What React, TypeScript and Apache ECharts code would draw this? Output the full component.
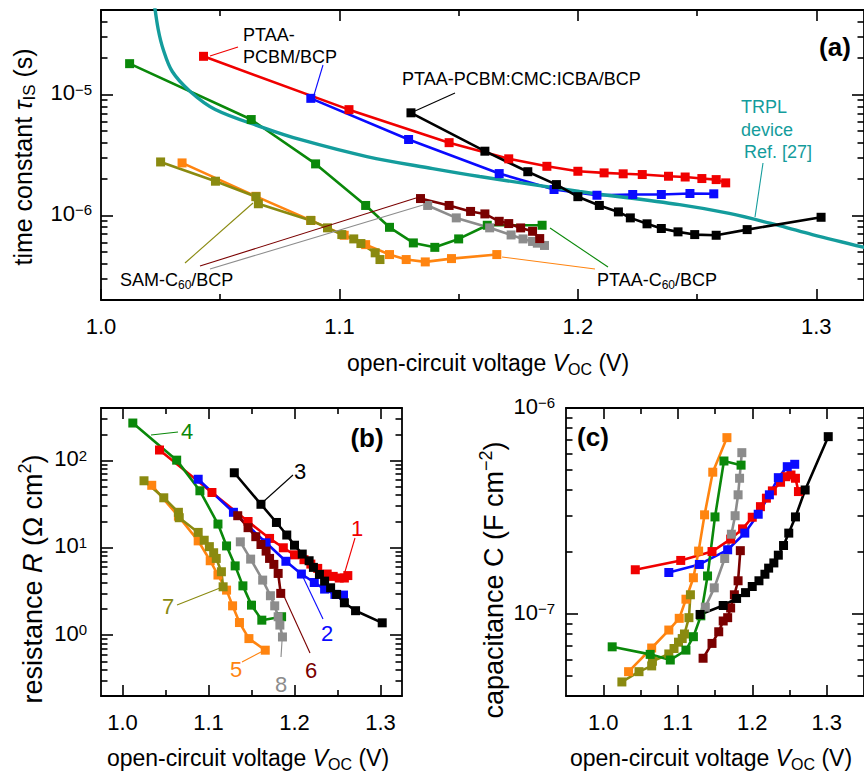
import React, { useEffect, useRef } from 'react';
import * as echarts from 'echarts';

// ---------------- data ----------------
// open-circuit voltages of each device series (V)
const vocRed = [1.043, 1.104, 1.146, 1.171, 1.187, 1.2, 1.211, 1.219, 1.227, 1.238, 1.245, 1.252, 1.258, 1.262];
const vocBlue = [1.088, 1.129, 1.167, 1.19, 1.208, 1.223, 1.235, 1.247, 1.257];
const vocBlack = [1.13, 1.161, 1.179, 1.191, 1.2, 1.209, 1.217, 1.222, 1.229, 1.235, 1.242, 1.249, 1.258, 1.271, 1.302];
const vocGreen = [1.012, 1.063, 1.09, 1.111, 1.121, 1.131, 1.14, 1.15, 1.162, 1.185];
const vocOrange = [1.034, 1.065, 1.088, 1.102, 1.111, 1.121, 1.128, 1.136, 1.147, 1.166];
const vocOlive = [1.025, 1.048, 1.065, 1.066, 1.088, 1.095, 1.101, 1.106, 1.109, 1.115, 1.117];
const vocBrown = [1.134, 1.146, 1.155, 1.161, 1.167, 1.171, 1.176, 1.181, 1.184];
const vocGray = [1.137, 1.149, 1.163, 1.172, 1.177, 1.181, 1.183, 1.186];

// (a) time constant tau_IS (s)
const tauRed = [2.07e-5, 7.5e-6, 4.0e-6, 2.94e-6, 2.55e-6, 2.32e-6, 2.25e-6, 2.21e-6, 2.18e-6, 2.11e-6, 2.08e-6, 2.02e-6, 1.98e-6, 1.86e-6];
const tauBlue = [9.3e-6, 4.25e-6, 2.22e-6, 1.64e-6, 1.47e-6, 1.49e-6, 1.49e-6, 1.52e-6, 1.51e-6];
const tauBlack = [7.06e-6, 3.4e-6, 2.3e-6, 1.8e-6, 1.43e-6, 1.21e-6, 1.07e-6, 9.55e-7, 8.53e-7, 7.8e-7, 7.32e-7, 6.95e-7, 6.86e-7, 7.64e-7, 9.66e-7];
const tauGreen = [1.8e-5, 6.21e-6, 2.67e-6, 1.21e-6, 7.98e-7, 5.93e-7, 5.45e-7, 6.4e-7, 8.3e-7, 8.3e-7];
const tauOrange = [2.72e-6, 1.44e-6, 9.1e-7, 6.86e-7, 5.74e-7, 4.75e-7, 4.32e-7, 4.13e-7, 4.4e-7, 4.75e-7];
const tauOlive = [2.77e-6, 1.92e-6, 1.43e-6, 1.25e-6, 9.1e-7, 7.9e-7, 6.95e-7, 6.4e-7, 5.86e-7, 4.91e-7, 4.32e-7];
const tauBrown = [1.38e-6, 1.21e-6, 1.08e-6, 1.03e-6, 8.95e-7, 8.57e-7, 7.89e-7, 7.4e-7, 6.44e-7];
const tauGray = [1.21e-6, 9.55e-7, 7.9e-7, 6.9e-7, 6.4e-7, 6.1e-7, 5.9e-7, 5.65e-7];
// TRPL reference curve
const vocTRPL = [1.0223, 1.024, 1.0261, 1.0299, 1.0374, 1.0479, 1.068, 1.0834, 1.1115, 1.1391, 1.1588, 1.2007, 1.2426, 1.2635, 1.2845, 1.2983, 1.3205];
const tauTRPL = [5.77e-5, 3.45e-5, 2.36e-5, 1.55e-5, 1.06e-5, 7.52e-6, 5.33e-6, 4.25e-6, 3.07e-6, 2.44e-6, 2.1e-6, 1.58e-6, 1.23e-6, 1.04e-6, 8.25e-7, 6.95e-7, 5.42e-7];

// (b) resistance R (Ohm cm^2)
const resRed = [132, 43, 20, 12.8, 10, 8.3, 7.3, 6.5, 5.8, 5.0, 4.7, 4.5, 4.5, 4.8];
const resBlue = [61, 25.5, 11.4, 7.0, 5.0, 4.0, 3.36, 2.92, 2.87];
const resBlack = [72.4, 31.5, 19.5, 14.0, 10.7, 8.47, 7.1, 5.96, 4.95, 4.15, 3.48, 2.92, 2.34, 1.9, 1.38];
const resGreen = [269, 101, 45, 18.7, 10.5, 6.2, 3.66, 2.2, 1.48, 1.62];
const resOrange = [52, 23, 12, 7.1, 4.87, 3.27, 2.16, 1.39, 0.91, 0.67];
const resOlive = [58.6, 37.4, 25.5, 22.1, 15.0, 12.2, 10.3, 8.77, 7.55, 5.31, 3.57];
const resBrown = [23.3, 17.0, 13.4, 10.9, 9.16, 7.55, 6.45, 5.08, 3.0];
const resGray = [11.7, 7.41, 4.26, 2.82, 2.16, 1.62, 1.3, 0.95];

// (c) capacitance C (F cm^-2)
const capRed = [1.64e-7, 1.82e-7, 2.01e-7, 2.31e-7, 2.59e-7, 2.95e-7, 3.32e-7, 3.65e-7, 3.96e-7, 4.36e-7, 4.64e-7, 4.73e-7, 4.56e-7, 3.93e-7];
const capBlue = [1.59e-7, 1.74e-7, 2.05e-7, 2.47e-7, 3.05e-7, 3.79e-7, 4.59e-7, 5.19e-7, 5.33e-7];
const capBlack = [9.95e-8, 1.1e-7, 1.19e-7, 1.27e-7, 1.36e-7, 1.45e-7, 1.56e-7, 1.67e-7, 1.77e-7, 1.93e-7, 2.15e-7, 2.47e-7, 2.96e-7, 4.0e-7, 7.26e-7];
const capGreen = [6.93e-8, 6.37e-8, 5.98e-8, 6.68e-8, 7.76e-8, 9.8e-8, 1.53e-7, 2.96e-7, 5.53e-7, 5.28e-7];
const capOrange = [5.25e-8, 6.84e-8, 8.36e-8, 9.53e-8, 1.18e-7, 1.5e-7, 2.02e-7, 3.03e-7, 4.88e-7, 7.18e-7];
const capOlive = [4.68e-8, 5.25e-8, 5.6e-8, 5.9e-8, 6.4e-8, 6.8e-8, 7.3e-8, 7.6e-8, 8.0e-8, 9.6e-8, 1.24e-7];
const capBrown = [6.1e-8, 7.2e-8, 8.2e-8, 9.25e-8, 9.6e-8, 1.07e-7, 1.24e-7, 1.45e-7, 2.03e-7];
const capGray = [1.08e-7, 1.34e-7, 1.86e-7, 2.44e-7, 3.0e-7, 3.79e-7, 4.56e-7, 6.07e-7];

// ticks
const xMajor = [1.0, 1.1, 1.2, 1.3];
const xMinor = [1.05, 1.15, 1.25];
const yMajorA = [1e-6, 1e-5];
const yMinorA = [3e-7, 4e-7, 5e-7, 6e-7, 7e-7, 8e-7, 9e-7, 2e-6, 3e-6, 4e-6, 5e-6, 6e-6, 7e-6, 8e-6, 9e-6, 2e-5, 3e-5, 4e-5];
const yMajorB = [1, 10, 100];
const yMinorB = [0.3, 0.4, 0.5, 0.6, 0.7, 0.8, 0.9, 2, 3, 4, 5, 6, 7, 8, 9, 20, 30, 40, 50, 60, 70, 80, 90, 200, 300];
const yMajorC = [1e-7, 1e-6];
const yMinorC = [5e-8, 6e-8, 7e-8, 8e-8, 9e-8, 2e-7, 3e-7, 4e-7, 5e-7, 6e-7, 7e-7, 8e-7, 9e-7];

// ---------------- styles ----------------
const FONT = "'Liberation Sans', Arial, Helvetica, sans-serif";
const C = {
  red: '#f00000',
  blue: '#0a0aff',
  black: '#000000',
  green: '#0a880a',
  orange: '#ff8410',
  olive: '#8a8a10',
  brown: '#7a0000',
  gray: '#8c8c8c',
  teal: '#149c9c',
};

const axisLineStyle = { color: '#000', width: 1.8 };
const tickStyle = { color: '#000', width: 1.6 };

function xAxes(g: number, min: number, max: number, margin: number) {
  const base: any = {
    type: 'value', gridIndex: g, min, max, silent: true,
    splitLine: { show: false }, minorTick: { show: false }, minorSplitLine: { show: false },
  };
  return [
    {
      ...base, position: 'bottom',
      axisLine: { show: true, onZero: false, lineStyle: axisLineStyle },
      axisTick: { show: true, inside: true, length: 11, customValues: xMajor, lineStyle: tickStyle },
      axisLabel: {
        show: true, customValues: xMajor, formatter: (v: number) => v.toFixed(1),
        margin, fontSize: 22, fontFamily: FONT, color: '#000',
      },
    },
    {
      ...base, position: 'bottom',
      axisLine: { show: false, onZero: false },
      axisTick: { show: true, inside: true, length: 6, customValues: xMinor, lineStyle: tickStyle },
      axisLabel: { show: false },
    },
    {
      ...base, position: 'top',
      axisLine: { show: true, onZero: false, lineStyle: axisLineStyle },
      axisTick: { show: true, inside: true, length: 11, customValues: xMajor, lineStyle: tickStyle },
      axisLabel: { show: false },
    },
    {
      ...base, position: 'top',
      axisLine: { show: false, onZero: false },
      axisTick: { show: true, inside: true, length: 6, customValues: xMinor, lineStyle: tickStyle },
      axisLabel: { show: false },
    },
  ];
}

const powFmt = (v: number) => {
  const e = Math.round(Math.log10(v));
  return '{b|10}{s|' + (e < 0 ? '\u2212' + -e : String(e)) + '}';
};
const powRich = {
  b: { fontSize: 22, lineHeight: 22, verticalAlign: 'bottom', fontFamily: FONT, color: '#000' },
  s: { fontSize: 15, lineHeight: 15, verticalAlign: 'top', padding: [0, 0, 12, 0], fontFamily: FONT, color: '#000' },
};

function yAxes(g: number, min: number, max: number, majors: number[], minors: number[], margin: number) {
  const base: any = {
    type: 'log', logBase: 10, gridIndex: g, min, max, silent: true,
    splitLine: { show: false }, minorTick: { show: false }, minorSplitLine: { show: false },
  };
  return [
    {
      ...base, position: 'left',
      axisLine: { show: true, onZero: false, lineStyle: axisLineStyle },
      axisTick: { show: true, inside: true, length: 12, customValues: majors, lineStyle: tickStyle },
      axisLabel: {
        show: true, customValues: majors, formatter: powFmt, rich: powRich, margin,
        padding: [0, 0, 4, 0], fontFamily: FONT, color: '#000',
      },
    },
    {
      ...base, position: 'left',
      axisLine: { show: false, onZero: false },
      axisTick: { show: true, inside: true, length: 6.5, customValues: minors, lineStyle: tickStyle },
      axisLabel: { show: false },
    },
    {
      ...base, position: 'right',
      axisLine: { show: true, onZero: false, lineStyle: axisLineStyle },
      axisTick: { show: true, inside: true, length: 12, customValues: majors, lineStyle: tickStyle },
      axisLabel: { show: false },
    },
    {
      ...base, position: 'right',
      axisLine: { show: false, onZero: false },
      axisTick: { show: true, inside: true, length: 6.5, customValues: minors, lineStyle: tickStyle },
      axisLabel: { show: false },
    },
  ];
}

function line(xs: number[], ys: number[], color: string, g: number, extra: any = {}) {
  return {
    type: 'line', xAxisIndex: 4 * g, yAxisIndex: 4 * g,
    data: xs.map((x, i) => [x, ys[i]]),
    symbol: 'rect', symbolSize: 9, showSymbol: true, showAllSymbol: true,
    lineStyle: { color, width: 2.6 }, itemStyle: { color },
    silent: true, clip: true, emphasis: { disabled: true },
    ...extra,
  };
}

// rich text styles: r/i = base (top aligned, used with subscripts),
// rb/ib = base (bottom aligned, used with superscripts), sb = subscript, sp = superscript
function richFor(size: number, color: string) {
  const small = Math.round(size * 0.68);
  const common = { fontFamily: FONT, fill: color, color };
  return {
    r: { ...common, fontSize: size, verticalAlign: 'top' },
    i: { ...common, fontSize: size, verticalAlign: 'top', fontStyle: 'italic' },
    rb: { ...common, fontSize: size, verticalAlign: 'bottom' },
    ib: { ...common, fontSize: size, verticalAlign: 'bottom', fontStyle: 'italic' },
    sb: { ...common, fontSize: small, verticalAlign: 'top', padding: [Math.round(size * 0.43), 0, 0, 0] },
    sp: { ...common, fontSize: small, verticalAlign: 'top', padding: [0, 0, Math.round(size * 0.46), 0] },
  };
}

function T(x: number, y: number, text: string, size: number, color: string, opts: any = {}) {
  return {
    type: 'text', x, y, rotation: opts.rot || 0, silent: true, z: 100,
    style: {
      text, fill: color, fontSize: size, fontFamily: FONT,
      fontWeight: opts.bold ? 'bold' : 'normal',
      align: opts.align || 'center', verticalAlign: 'middle',
      rich: richFor(size, color),
    },
  };
}

function L(x1: number, y1: number, x2: number, y2: number, color: string) {
  return { type: 'line', silent: true, z: 90, shape: { x1, y1, x2, y2 }, style: { stroke: color, lineWidth: 1.1 } };
}

export default function App() {
  const ref = useRef<HTMLDivElement>(null);
  useEffect(() => {
    if (!ref.current) return;
    const chart = echarts.init(ref.current, undefined, { renderer: 'svg', width: 864, height: 772 });
    const xT = '{r|open-circuit voltage }{i|V}{sb|OC}{r| (V)}';
    const option: any = {
      animation: false,
      backgroundColor: '#ffffff',
      grid: [
        { left: 101, top: 10, width: 764, height: 290, containLabel: false },
        { left: 101, top: 408, width: 301, height: 288, containLabel: false },
        { left: 566, top: 408, width: 300, height: 288, containLabel: false },
      ],
      xAxis: [
        ...xAxes(0, 1.0, 1.32, 15),
        ...xAxes(1, 0.975, 1.325, 15),
        ...xAxes(2, 0.95, 1.35, 15),
      ],
      yAxis: [
        ...yAxes(0, 2e-7, 5e-5, yMajorA, yMinorA, 9),
        ...yAxes(1, 0.2, 400, yMajorB, yMinorB, 14),
        ...yAxes(2, 4e-8, 1e-6, yMajorC, yMinorC, 11),
      ],
      series: [
        // (a)
        line(vocRed, tauRed, C.red, 0),
        line(vocBlue, tauBlue, C.blue, 0),
        line(vocOrange, tauOrange, C.orange, 0),
        line(vocOlive, tauOlive, C.olive, 0),
        line(vocGreen, tauGreen, C.green, 0),
        line(vocGray, tauGray, C.gray, 0),
        line(vocBrown, tauBrown, C.brown, 0),
        line(vocTRPL, tauTRPL, C.teal, 0, { symbol: 'none', showSymbol: false, smooth: 0.35, lineStyle: { color: C.teal, width: 3.4 } }),
        line(vocBlack, tauBlack, C.black, 0),
        // (b)
        line(vocRed, resRed, C.red, 1),
        line(vocBlue, resBlue, C.blue, 1),
        line(vocOrange, resOrange, C.orange, 1),
        line(vocOlive, resOlive, C.olive, 1),
        line(vocGreen, resGreen, C.green, 1),
        line(vocGray, resGray, C.gray, 1),
        line(vocBrown, resBrown, C.brown, 1),
        line(vocBlack, resBlack, C.black, 1),
        // (c)
        line(vocRed, capRed, C.red, 2),
        line(vocBlue, capBlue, C.blue, 2),
        line(vocOrange, capOrange, C.orange, 2),
        line(vocOlive, capOlive, C.olive, 2),
        line(vocGreen, capGreen, C.green, 2),
        line(vocGray, capGray, C.gray, 2),
        line(vocBrown, capBrown, C.brown, 2),
        line(vocBlack, capBlack, C.black, 2),
      ],
      graphic: {
        elements: [
          // ---- panel (a) ----
          T(835, 47, '(a)', 26, '#000', { bold: true }),
          T(243, 35, '{r|PTAA-}', 18, '#000', { align: 'left' }),
          T(243, 57, '{r|PCBM/BCP}', 18, '#000', { align: 'left' }),
          T(402, 79, '{r|PTAA-PCBM:CMC:ICBA/BCP}', 18, '#000', { align: 'left' }),
          T(741, 107, '{r|TRPL}', 18, C.teal, { align: 'left' }),
          T(741, 130, '{r|device}', 18, C.teal, { align: 'left' }),
          T(744, 152, '{r|Ref. [27]}', 18, C.teal, { align: 'left' }),
          T(120, 281, '{r|SAM-C}{sb|60}{r|/BCP}', 18, '#000', { align: 'left' }),
          T(597, 281, '{r|PTAA-C}{sb|60}{r|/BCP}', 18, '#000', { align: 'left' }),
          L(210, 56, 238, 47, C.red),
          L(314, 95, 323, 65, C.blue),
          L(415, 111, 455, 93, C.black),
          L(763, 163, 755, 217, C.teal),
          L(185, 263, 253, 203, C.olive),
          L(200, 266, 416, 198, C.brown),
          L(210, 269, 423, 205, C.gray),
          L(608, 267, 550, 228, C.green),
          L(595, 269, 502, 257, C.orange),
          T(488, 364, xT, 23, '#000'),
          T(24, 157, '{r|time constant }{i|\u03C4}{sb|IS}{r| (s)}', 25, '#000', { rot: Math.PI / 2 }),
          // ---- panel (b) ----
          T(367, 438, '(b)', 26, '#000', { bold: true }),
          T(187, 431, '{r|4}', 22, C.green),
          T(300, 471, '{r|3}', 22, C.black),
          T(357, 528, '{r|1}', 22, C.red),
          T(327, 633, '{r|2}', 22, C.blue),
          T(168, 606, '{r|7}', 22, C.olive),
          T(311, 670, '{r|6}', 22, C.brown),
          T(236, 669, '{r|5}', 22, C.orange),
          T(281, 684, '{r|8}', 22, C.gray),
          L(151, 435, 178, 432, C.green),
          L(263, 502, 293, 475, C.black),
          L(344, 575, 355, 538, C.red),
          L(303, 577, 323, 619, C.blue),
          L(177, 605, 220, 588, C.olive),
          L(283, 594, 310, 653, C.brown),
          L(242, 662, 263, 651, C.orange),
          L(282, 641, 281, 657, C.gray),
          T(248, 759, xT, 23, '#000'),
          T(31, 579, '{rb|resistance }{ib|R}{rb| (\u03A9 cm}{sp|2}{rb|)}', 27, '#000', { rot: Math.PI / 2 }),
          // ---- panel (c) ----
          T(593, 437, '(c)', 26, '#000', { bold: true }),
          T(711, 759, xT, 23, '#000'),
          T(492, 580, '{rb|capacitance C (F cm}{sp|\u22122}{rb|)}', 27, '#000', { rot: Math.PI / 2 }),
        ],
      },
    };
    chart.setOption(option);
    return () => chart.dispose();
  }, []);
  return <div ref={ref} style={{ position: 'absolute', left: 0, top: 0, width: 864, height: 772 }} />;
}
